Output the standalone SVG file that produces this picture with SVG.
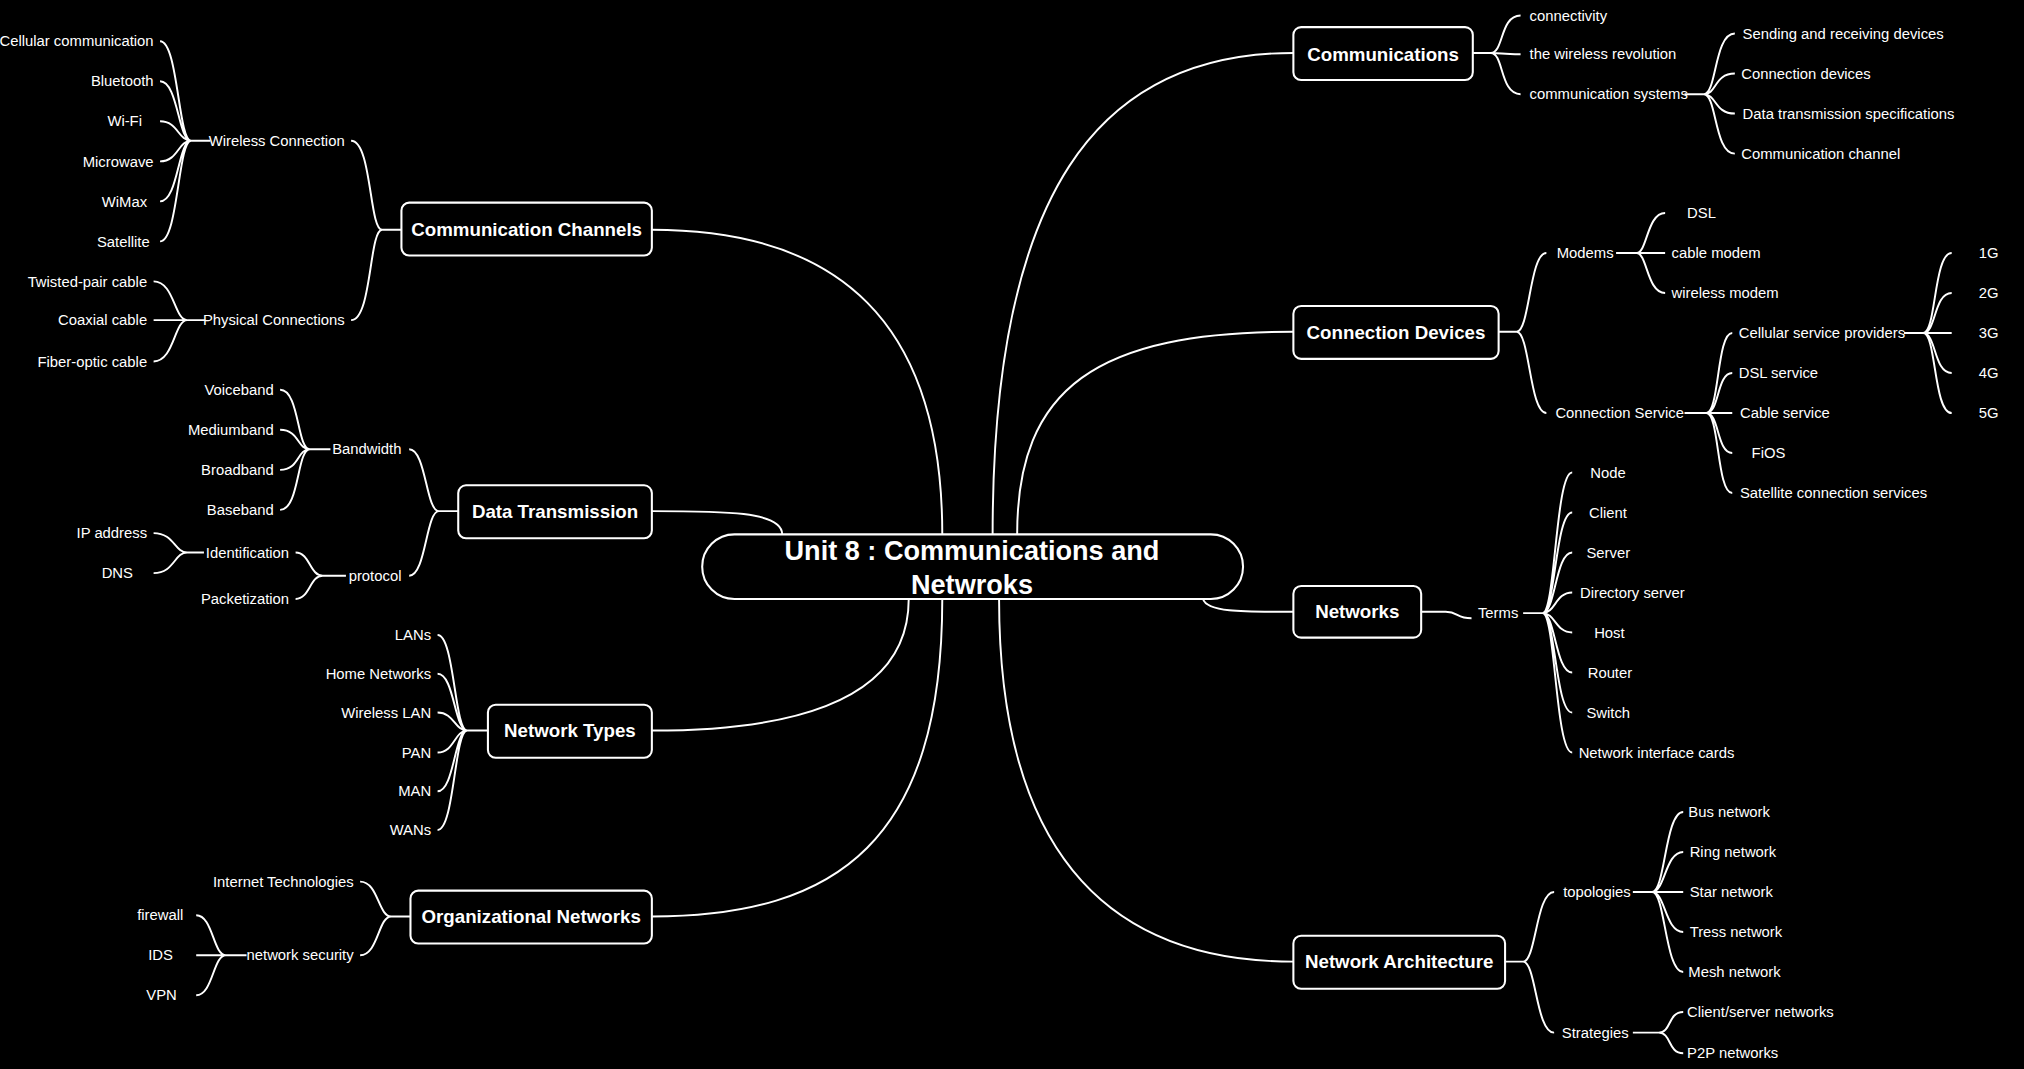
<svg xmlns="http://www.w3.org/2000/svg" width="2024" height="1069" viewBox="0 0 2024 1069">
<style>
.n rect{fill:#000;stroke:#fff;stroke-width:1.6}
.n text{fill:#fff;font-family:"Liberation Sans",Arial,sans-serif;font-weight:bold;font-size:14.5px;text-anchor:middle}
.c path{fill:none;stroke:#fff;stroke-width:1.5}
.l{fill:#fff;font-family:"Liberation Sans",Arial,sans-serif;font-size:11.5px}
.r{text-anchor:end}
</style>
<rect width="2024" height="1069" fill="#000"/>
<g transform="scale(1.2908)">
<g id="connectors" class="c">
<path d="M769,414 C769,150 850,41 1002,41"/>
<path d="M788,414 C788,300 850,257 1002,257"/>
<path d="M932,464 C935,474 960,474 1002,474"/>
<path d="M774,464 C774,650 850,745 1002,745"/>
<path d="M730,414 C730,250 650,178 505,178"/>
<path d="M606,414 C606,396 560,396 505,396"/>
<path d="M704,464 C704,540 620,566 505,566"/>
<path d="M730,464 C730,650 650,710 505,710"/>
<!-- Communications -->
<path d="M1141,41 H1155 C1165,41 1162,12 1178,12 M1155,41 C1165,41 1162,42 1178,42 M1155,41 C1165,41 1162,73 1178,73"/>
<path d="M1305,73 H1320 C1330,73 1328,26 1344,26 M1320,73 C1330,73 1328,57 1344,57 M1320,73 C1330,73 1328,88 1344,88 M1320,73 C1330,73 1328,119 1344,119"/>
<!-- Connection Devices -->
<path d="M1161,257 H1175 C1185,257 1185,196 1198,196 M1175,257 C1185,257 1185,320 1198,320"/>
<path d="M1252,196 H1268 C1276,196 1276,165 1290,165 M1268,196 C1276,196 1276,196 1290,196 M1268,196 C1276,196 1276,227 1290,227"/>
<path d="M1305,320 H1322 C1332,320 1330,258 1342,258 M1322,320 C1332,320 1330,289 1342,289 M1322,320 C1332,320 1330,320 1342,320 M1322,320 C1332,320 1330,351 1342,351 M1322,320 C1332,320 1330,382 1342,382"/>
<path d="M1475,258 H1490 C1500,258 1498,196 1512,196 M1490,258 C1500,258 1498,227 1512,227 M1490,258 C1500,258 1498,258 1512,258 M1490,258 C1500,258 1498,289 1512,289 M1490,258 C1500,258 1498,320 1512,320"/>
<!-- Networks -->
<path d="M1101,474 H1120 C1130,474 1128,479 1140,479"/>
<path d="M1180,475 H1195 C1205,475 1205,366 1218,366 M1195,475 C1205,475 1205,397 1218,397 M1195,475 C1205,475 1205,428 1218,428 M1195,475 C1205,475 1205,459 1218,459 M1195,475 C1205,475 1205,490 1218,490 M1195,475 C1205,475 1205,521 1218,521 M1195,475 C1205,475 1205,552 1218,552 M1195,475 C1205,475 1205,583 1218,583"/>
<!-- Network Architecture -->
<path d="M1166,745 H1180 C1190,745 1190,691 1204,691 M1180,745 C1190,745 1190,800 1204,800"/>
<path d="M1265,691 H1280 C1290,691 1290,629 1304,629 M1280,691 C1290,691 1290,660 1304,660 M1280,691 C1290,691 1290,691 1304,691 M1280,691 C1290,691 1290,722 1304,722 M1280,691 C1290,691 1290,753 1304,753"/>
<path d="M1265,800 H1285 C1295,800 1292,784 1304,784 M1285,800 C1295,800 1292,816 1304,816"/>
<!-- Communication Channels -->
<path d="M311,178 H296 C286,178 288,109 272,109 M296,178 C286,178 288,248 272,248"/>
<path d="M163,109 H148 C138,109 138,32 124,32 M148,109 C138,109 138,63 124,63 M148,109 C138,109 138,94 124,94 M148,109 C138,109 138,125 124,125 M148,109 C138,109 138,156 124,156 M148,109 C138,109 138,187 124,187"/>
<path d="M159,248 H145 C135,248 135,218 119,218 M145,248 C135,248 135,248 119,248 M145,248 C135,248 135,280 119,280"/>
<!-- Data Transmission -->
<path d="M355,396 H340 C330,396 330,348 317,348 M340,396 C330,396 330,446 317,446"/>
<path d="M256,348 H240 C230,348 232,302 217,302 M240,348 C230,348 232,333 217,333 M240,348 C230,348 232,364 217,364 M240,348 C230,348 232,395 217,395"/>
<path d="M268,446 H250 C240,446 240,428 229,428 M250,446 C240,446 240,464 229,464"/>
<path d="M158,428 H145 C135,428 135,413 119,413 M145,428 C135,428 135,444 119,444"/>
<!-- Network Types -->
<path d="M378,566 H362 C352,566 352,492 339,492 M362,566 C352,566 352,522 339,522 M362,566 C352,566 352,552 339,552 M362,566 C352,566 352,583 339,583 M362,566 C352,566 352,613 339,613 M362,566 C352,566 352,643 339,643"/>
<!-- Organizational Networks -->
<path d="M318,710 H303 C293,710 293,683 279,683 M303,710 C293,710 293,740 279,740"/>
<path d="M191,740 H175 C165,740 165,709 152,709 M175,740 C165,740 165,740 152,740 M175,740 C165,740 165,771 152,771"/>
</g>
<g id="center" class="n"><rect x="544" y="414" width="419" height="50" rx="25"/>
<text x="753" y="434" style="font-size:21px">Unit 8 : Communications and</text><text x="753" y="460" style="font-size:21px">Netwroks</text></g>
<g id="communications" class="n"><rect x="1002" y="21" width="139" height="41" rx="6"/><text x="1071.5" y="47">Communications</text></g>
<g id="connection-devices" class="n"><rect x="1002" y="237" width="159" height="41" rx="6"/><text x="1081.5" y="263">Connection Devices</text></g>
<g id="networks" class="n"><rect x="1002" y="454" width="99" height="40" rx="6"/><text x="1051.5" y="479">Networks</text></g>
<g id="network-architecture" class="n"><rect x="1002" y="725" width="164" height="41" rx="6"/><text x="1084" y="750">Network Architecture</text></g>
<g id="communication-channels" class="n"><rect x="311" y="157" width="194" height="41" rx="6"/><text x="408" y="183">Communication Channels</text></g>
<g id="data-transmission" class="n"><rect x="355" y="376" width="150" height="41" rx="6"/><text x="430" y="401">Data Transmission</text></g>
<g id="network-types" class="n"><rect x="378" y="546" width="127" height="41" rx="6"/><text x="441.5" y="571">Network Types</text></g>
<g id="organizational-networks" class="n"><rect x="318" y="690" width="187" height="41" rx="6"/><text x="411.5" y="715">Organizational Networks</text></g>
<g id="labels">
<text class="l" x="1185" y="16">connectivity</text>
<text class="l" x="1185" y="46">the wireless revolution</text>
<text class="l" x="1185" y="77">communication systems</text>
<text class="l" x="1350" y="30">Sending and receiving devices</text>
<text class="l" x="1349" y="61">Connection devices</text>
<text class="l" x="1350" y="92">Data transmission specifications</text>
<text class="l" x="1349" y="123">Communication channel</text>
<text class="l" x="1206" y="200">Modems</text>
<text class="l" x="1205" y="324">Connection Service</text>
<text class="l" x="1307" y="169">DSL</text>
<text class="l" x="1295" y="200">cable modem</text>
<text class="l" x="1295" y="231">wireless modem</text>
<text class="l" x="1347" y="262">Cellular service providers</text>
<text class="l" x="1347" y="293">DSL service</text>
<text class="l" x="1348" y="324">Cable service</text>
<text class="l" x="1357" y="355">FiOS</text>
<text class="l" x="1348" y="386">Satellite connection services</text>
<text class="l" x="1533" y="200">1G</text>
<text class="l" x="1533" y="231">2G</text>
<text class="l" x="1533" y="262">3G</text>
<text class="l" x="1533" y="293">4G</text>
<text class="l" x="1533" y="324">5G</text>
<text class="l" x="1145" y="479">Terms</text>
<text class="l" x="1232" y="370">Node</text>
<text class="l" x="1231" y="401">Client</text>
<text class="l" x="1229" y="432">Server</text>
<text class="l" x="1224" y="463">Directory server</text>
<text class="l" x="1235" y="494">Host</text>
<text class="l" x="1230" y="525">Router</text>
<text class="l" x="1229" y="556">Switch</text>
<text class="l" x="1223" y="587">Network interface cards</text>
<text class="l" x="1211" y="695">topologies</text>
<text class="l" x="1210" y="804">Strategies</text>
<text class="l" x="1308" y="633">Bus network</text>
<text class="l" x="1309" y="664">Ring network</text>
<text class="l" x="1309" y="695">Star network</text>
<text class="l" x="1309" y="726">Tress network</text>
<text class="l" x="1308" y="757">Mesh network</text>
<text class="l" x="1307" y="788">Client/server networks</text>
<text class="l" x="1307" y="820">P2P networks</text>
<text class="l r" x="267" y="113">Wireless Connection</text>
<text class="l r" x="267" y="252">Physical Connections</text>
<text class="l r" x="119" y="36">Cellular communication</text>
<text class="l r" x="119" y="67">Bluetooth</text>
<text class="l r" x="110" y="98">Wi-Fi</text>
<text class="l r" x="119" y="129">Microwave</text>
<text class="l r" x="114" y="160">WiMax</text>
<text class="l r" x="116" y="191">Satellite</text>
<text class="l r" x="114" y="222">Twisted-pair cable</text>
<text class="l r" x="114" y="252">Coaxial cable</text>
<text class="l r" x="114" y="284">Fiber-optic cable</text>
<text class="l r" x="311" y="352">Bandwidth</text>
<text class="l r" x="311" y="450">protocol</text>
<text class="l r" x="212" y="306">Voiceband</text>
<text class="l r" x="212" y="337">Mediumband</text>
<text class="l r" x="212" y="368">Broadband</text>
<text class="l r" x="212" y="399">Baseband</text>
<text class="l r" x="224" y="432">Identification</text>
<text class="l r" x="224" y="468">Packetization</text>
<text class="l r" x="114" y="417">IP address</text>
<text class="l r" x="103" y="448">DNS</text>
<text class="l r" x="334" y="496">LANs</text>
<text class="l r" x="334" y="526">Home Networks</text>
<text class="l r" x="334" y="556">Wireless LAN</text>
<text class="l r" x="334" y="587">PAN</text>
<text class="l r" x="334" y="617">MAN</text>
<text class="l r" x="334" y="647">WANs</text>
<text class="l r" x="274" y="687">Internet Technologies</text>
<text class="l r" x="274" y="744">network security</text>
<text class="l r" x="142" y="713">firewall</text>
<text class="l r" x="134" y="744">IDS</text>
<text class="l r" x="137" y="775">VPN</text>
</g>
</g>
</svg>
